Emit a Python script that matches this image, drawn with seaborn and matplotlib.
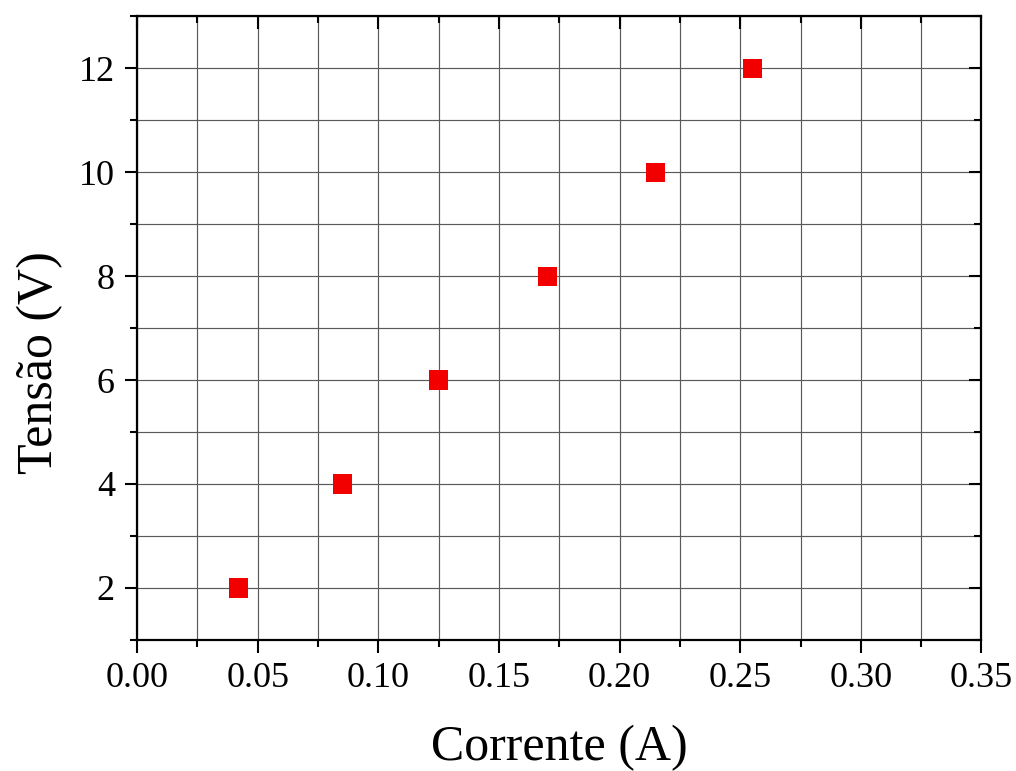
import numpy as np
import pandas as pd
import matplotlib
matplotlib.use("Agg")
import matplotlib.pyplot as plt
from matplotlib.ticker import MultipleLocator
import seaborn as sns

# data
corrente = [0.042, 0.085, 0.125, 0.170, 0.215, 0.255]
tensao = [2, 4, 6, 8, 10, 12]

df = pd.DataFrame({'Corrente': corrente, 'Tensao': tensao})

sns.set_style('white')
plt.rcParams['font.family'] = ['Liberation Serif', 'DejaVu Serif']
plt.rcParams['text.color'] = 'black'
plt.rcParams['axes.labelcolor'] = 'black'

fig, ax = plt.subplots(figsize=(10.16, 7.71), dpi=100)
fig.subplots_adjust(left=0.135, right=0.966, top=0.979, bottom=0.17)

sns.scatterplot(data=df, x='Corrente', y='Tensao', marker='s', s=190,
                color='#f20000', edgecolor='none', ax=ax, zorder=3)

ax.set_xlim(0, 0.35)
ax.set_ylim(1, 13)
ax.xaxis.set_minor_locator(MultipleLocator(0.025))
ax.yaxis.set_minor_locator(MultipleLocator(1))
xt = np.arange(0, 0.351, 0.05)
ax.set_xticks(xt)
ax.set_xticklabels([f'{v:.2f}' for v in xt])
ax.set_yticks([2, 4, 6, 8, 10, 12])

ax.grid(True, which='both', color='#5a5a5a', linewidth=0.85)
ax.set_axisbelow(True)

for sp in ax.spines.values():
    sp.set_visible(True)
    sp.set_color('black')
    sp.set_linewidth(1.6)

ax.tick_params(which='both', bottom=True, left=True, top=True, right=True,
               labelsize=26, colors='black', width=1.5, direction='out')
ax.tick_params(which='major', length=9, pad=7)
ax.tick_params(which='minor', length=5)
# top and right ticks point inward
for t in ax.xaxis.get_major_ticks() + ax.xaxis.get_minor_ticks():
    t.tick2line.set_marker(3)
for t in ax.yaxis.get_major_ticks() + ax.yaxis.get_minor_ticks():
    t.tick2line.set_marker(0)

ax.set_xlabel('Corrente (A)', fontsize=36, labelpad=21)
ax.set_ylabel('Tensão (V)', fontsize=36)
ax.yaxis.set_label_coords(-0.088, 0.445)

fig.savefig('out.png', dpi=100)
